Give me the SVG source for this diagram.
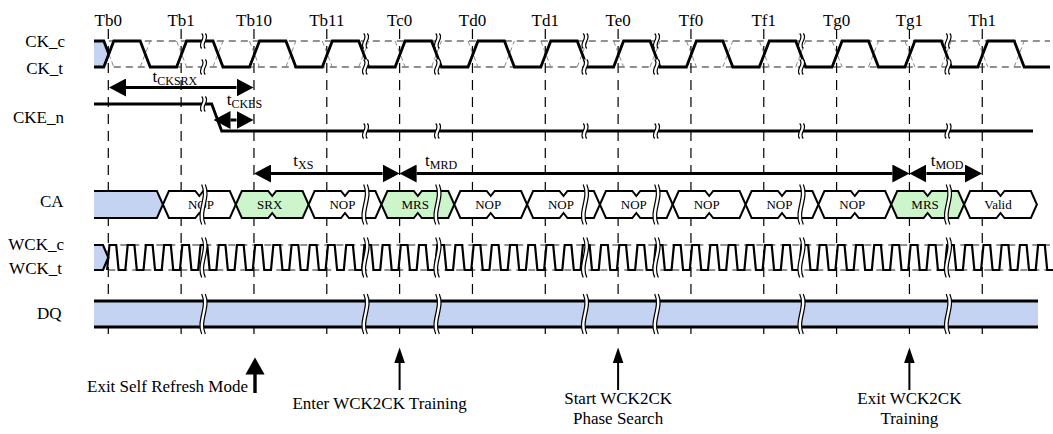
<svg xmlns="http://www.w3.org/2000/svg" width="1053" height="434" viewBox="0 0 1053 434">
<style>
text{font-family:"Liberation Serif","Times New Roman",serif;fill:#000}
.lr{font-size:17px;text-anchor:end}
.tk{font-size:17px;text-anchor:middle}
.cmd{font-size:13px;text-anchor:middle}
.t{font-size:17px}
.sub{font-size:12px}
.ann{font-size:17px}
.mid{text-anchor:middle}
.grid{stroke:#000;stroke-width:1.2;stroke-dasharray:10 7;fill:none}
.tick{stroke:#000;stroke-width:1.2;fill:none}
.sig{fill:none;stroke:#000;stroke-width:2.8;stroke-linejoin:miter}
.wck{fill:none;stroke:#000;stroke-width:2.2}
.cmp{fill:none;stroke:#222;stroke-width:1;stroke-dasharray:7 5}
.cmpd{fill:none;stroke:#8a8a8a;stroke-width:1;stroke-dasharray:5 3}
.hex{stroke:#000;stroke-width:2;stroke-linejoin:miter}
.w{fill:#fff}.g{fill:#ccf5cc}.b{fill:#c5d3f3}
.ol{fill:none;stroke:#000;stroke-width:2}
.arr{stroke:#000;stroke-width:3;fill:none}
.dq{stroke:#000;stroke-width:3;fill:none}
</style>
<defs>
<marker id="ah" markerUnits="userSpaceOnUse" markerWidth="17" markerHeight="18" refX="0" refY="9" orient="auto-start-reverse" viewBox="0 0 17 18"><path d="M0,0L17,9L0,18Z" fill="#000"/></marker>
<g id="bs"><path d="M-1.8,-7.5C3.2,-2.5 -6.8,2.5 -1.8,7.5L1.8,7.5C-3.2,2.5 6.8,-2.5 1.8,-7.5Z" fill="#fff"/><path d="M-1.8,-7.5C3.2,-2.5 -6.8,2.5 -1.8,7.5M1.8,-7.5C6.8,-2.5 -3.2,2.5 1.8,7.5" fill="none" stroke="#000" stroke-width="1.2"/></g>
<g id="bl"><path d="M-1.8,-20C4.2,-7 -7.8,7 -1.8,20L1.8,20C-4.2,7 7.8,-7 1.8,-20Z" fill="#fff"/><path d="M-1.8,-20C4.2,-7 -7.8,7 -1.8,20M1.8,-20C7.8,-7 -4.2,7 1.8,20" fill="none" stroke="#000" stroke-width="1.2"/></g>
</defs>
<rect width="1053" height="434" fill="#fff"/>

<g id="timeline">
<path class="grid" d="M108.3,29V300M181.13,29V300M253.96,29V300M326.79,29V300M399.62,29V300M472.45,29V300M545.28,29V300M618.11,29V300M690.94,29V300M763.77,29V300M836.6,29V300M909.43,29V300M982.26,29V300"/>
<path class="tick" d="M108.3,327V334M181.13,327V334M253.96,327V334M326.79,327V334M399.62,327V334M472.45,327V334M545.28,327V334M618.11,327V334M690.94,327V334M763.77,327V334M836.6,327V334M909.43,327V334M982.26,327V334"/>
<text class="tk" x="108.3" y="26">Tb0</text>
<text class="tk" x="181.13" y="26">Tb1</text>
<text class="tk" x="253.96" y="26">Tb10</text>
<text class="tk" x="326.79" y="26">Tb11</text>
<text class="tk" x="399.62" y="26">Tc0</text>
<text class="tk" x="472.45" y="26">Td0</text>
<text class="tk" x="545.28" y="26">Td1</text>
<text class="tk" x="618.11" y="26">Te0</text>
<text class="tk" x="690.94" y="26">Tf0</text>
<text class="tk" x="763.77" y="26">Tf1</text>
<text class="tk" x="836.6" y="26">Tg0</text>
<text class="tk" x="909.43" y="26">Tg1</text>
<text class="tk" x="982.26" y="26">Th1</text>
</g>

<g id="ck">
<text class="lr" x="65" y="46.5">CK_c</text>
<text class="lr" x="63" y="74.3">CK_t</text>
<polygon class="b" points="94,41 103.8,41 108.8,54 103.8,67 94,67"/>
<path class="cmp" d="M108.8,41H1050M113.8,67H1050"/>
<path class="cmpd" d="M108.8,54L113.8,67M140.2,67L150.2,41M176.6,41L186.6,67M213,67L223,41M249.5,41L259.5,67M285.9,67L295.9,41M322.3,41L332.3,67M358.7,67L368.7,41M395.1,41L405.1,67M431.5,67L441.5,41M468,41L478,67M504.4,67L514.4,41M540.8,41L550.8,67M577.2,67L587.2,41M613.6,41L623.6,67M650,67L660,41M686.4,41L696.4,67M722.8,67L732.8,41M759.3,41L769.3,67M795.7,67L805.7,41M832.1,41L842.1,67M868.5,67L878.5,41M904.9,41L914.9,67M941.3,67L951.3,41M977.8,41L987.8,67M1014.2,67L1024.2,41"/>
<path class="sig" d="M94,41H103.8L108.8,54"/>
<path class="sig" d="M94,67H103.8L113.8,41H140.2L150.2,67H176.6L186.6,41H213L223,67H249.5L259.5,41H285.9L295.9,67H322.3L332.3,41H358.7L368.7,67H395.1L405.1,41H431.5L441.5,67H468L478,41H504.4L514.4,67H540.8L550.8,41H577.2L587.2,67H613.6L623.6,41H650L660,67H686.4L696.4,41H722.8L732.8,67H759.3L769.3,41H795.7L805.7,67H832.1L842.1,41H868.5L878.5,67H904.9L914.9,41H941.3L951.3,67H977.8L987.8,41H1014.2L1024.2,67H1050"/>
</g>

<g id="cke">
<text class="lr" x="64" y="123">CKE_n</text>
<path class="sig" d="M94,104H211.7L221.7,131H1033"/>
</g>

<g id="ca">
<text class="lr" x="63.5" y="206.7">CA</text>
<polygon class="b" points="94,191 156.9,191 162.9,204.5 156.9,218 94,218"/>
<path class="ol" d="M94,191H156.9L162.9,204.5L156.9,218H94"/>
<polygon class="hex w" points="162.9,204.5 168.9,191 195.3,191 199.3,196 203.3,191 229.8,191 235.8,204.5 229.8,218 203.3,218 199.3,213 195.3,218 168.9,218"/>
<polygon class="hex g" points="235.8,204.5 241.8,191 268.2,191 272.2,196 276.2,191 302.6,191 308.6,204.5 302.6,218 276.2,218 272.2,213 268.2,218 241.8,218"/>
<polygon class="hex w" points="308.6,204.5 314.6,191 341,191 345,196 349,191 375.4,191 381.4,204.5 375.4,218 349,218 345,213 341,218 314.6,218"/>
<polygon class="hex g" points="381.4,204.5 387.4,191 413.8,191 417.8,196 421.8,191 448.3,191 454.3,204.5 448.3,218 421.8,218 417.8,213 413.8,218 387.4,218"/>
<polygon class="hex w" points="454.3,204.5 460.3,191 486.7,191 490.7,196 494.7,191 521.1,191 527.1,204.5 521.1,218 494.7,218 490.7,213 486.7,218 460.3,218"/>
<polygon class="hex w" points="527.1,204.5 533.1,191 559.5,191 563.5,196 567.5,191 593.9,191 599.9,204.5 593.9,218 567.5,218 563.5,213 559.5,218 533.1,218"/>
<polygon class="hex w" points="599.9,204.5 605.9,191 632.3,191 636.3,196 640.3,191 666.7,191 672.7,204.5 666.7,218 640.3,218 636.3,213 632.3,218 605.9,218"/>
<polygon class="hex w" points="672.7,204.5 678.7,191 705.2,191 709.2,196 713.2,191 739.6,191 745.6,204.5 739.6,218 713.2,218 709.2,213 705.2,218 678.7,218"/>
<polygon class="hex w" points="745.6,204.5 751.6,191 778,191 782,196 786,191 812.4,191 818.4,204.5 812.4,218 786,218 782,213 778,218 751.6,218"/>
<polygon class="hex w" points="818.4,204.5 824.4,191 850.8,191 854.8,196 858.8,191 885.2,191 891.2,204.5 885.2,218 858.8,218 854.8,213 850.8,218 824.4,218"/>
<polygon class="hex g" points="891.2,204.5 897.2,191 923.6,191 927.6,196 931.6,191 958.1,191 964.1,204.5 958.1,218 931.6,218 927.6,213 923.6,218 897.2,218"/>
<polygon class="hex w" points="964.1,204.5 970.1,191 996.5,191 1000.5,196 1004.5,191 1030.9,191 1036.9,204.5 1030.9,218 1004.5,218 1000.5,213 996.5,218 970.1,218"/>
<text class="cmd" x="201" y="209">NOP</text>
<text class="cmd" x="269.7" y="209">SRX</text>
<text class="cmd" x="342.5" y="209">NOP</text>
<text class="cmd" x="415.3" y="209">MRS</text>
<text class="cmd" x="488.2" y="209">NOP</text>
<text class="cmd" x="561" y="209">NOP</text>
<text class="cmd" x="633.8" y="209">NOP</text>
<text class="cmd" x="706.7" y="209">NOP</text>
<text class="cmd" x="779.5" y="209">NOP</text>
<text class="cmd" x="852.3" y="209">NOP</text>
<text class="cmd" x="925.1" y="209">MRS</text>
<text class="cmd" x="998" y="209">Valid</text>
</g>

<g id="wck">
<text class="lr" x="64" y="249.5">WCK_c</text>
<text class="lr" x="62" y="273.5">WCK_t</text>
<polygon class="b" points="94,245 103,245 108.3,257.5 103,270 94,270"/>
<path class="cmp" d="M108.3,245H1050M108.3,270H1050"/>
<path class="wck" d="M94,245H103L108.3,257.5L103,270H94"/>
<path class="wck" d="M107.1,270
l2.4,-25h6.704l2.4,25h6.704 l2.4,-25h6.704l2.4,25h6.704 l2.4,-25h6.704l2.4,25h6.704 l2.4,-25h6.704l2.4,25h6.704
l2.4,-25h6.704l2.4,25h6.704 l2.4,-25h6.704l2.4,25h6.704 l2.4,-25h6.704l2.4,25h6.704 l2.4,-25h6.704l2.4,25h6.704
l2.4,-25h6.704l2.4,25h6.704 l2.4,-25h6.704l2.4,25h6.704 l2.4,-25h6.704l2.4,25h6.704 l2.4,-25h6.704l2.4,25h6.704
l2.4,-25h6.704l2.4,25h6.704 l2.4,-25h6.704l2.4,25h6.704 l2.4,-25h6.704l2.4,25h6.704 l2.4,-25h6.704l2.4,25h6.704
l2.4,-25h6.704l2.4,25h6.704 l2.4,-25h6.704l2.4,25h6.704 l2.4,-25h6.704l2.4,25h6.704 l2.4,-25h6.704l2.4,25h6.704
l2.4,-25h6.704l2.4,25h6.704 l2.4,-25h6.704l2.4,25h6.704 l2.4,-25h6.704l2.4,25h6.704 l2.4,-25h6.704l2.4,25h6.704
l2.4,-25h6.704l2.4,25h6.704 l2.4,-25h6.704l2.4,25h6.704 l2.4,-25h6.704l2.4,25h6.704 l2.4,-25h6.704l2.4,25h6.704
l2.4,-25h6.704l2.4,25h6.704 l2.4,-25h6.704l2.4,25h6.704 l2.4,-25h6.704l2.4,25h6.704 l2.4,-25h6.704l2.4,25h6.704
l2.4,-25h6.704l2.4,25h6.704 l2.4,-25h6.704l2.4,25h6.704 l2.4,-25h6.704l2.4,25h6.704 l2.4,-25h6.704l2.4,25h6.704
l2.4,-25h6.704l2.4,25h6.704 l2.4,-25h6.704l2.4,25h6.704 l2.4,-25h6.704l2.4,25h6.704 l2.4,-25h6.704l2.4,25h6.704
l2.4,-25h6.704l2.4,25h6.704 l2.4,-25h6.704l2.4,25h6.704 l2.4,-25h6.704l2.4,25h6.704 l2.4,-25h6.704l2.4,25h6.704
l2.4,-25h6.704l2.4,25h6.704 l2.4,-25h6.704l2.4,25h6.704 l2.4,-25h6.704l2.4,25h6.704 l2.4,-25h6.704l2.4,25h6.704
l2.4,-25h6.704l2.4,25h6.704 l2.4,-25h6.704l2.4,25h6.704 l2.4,-25h6.704l2.4,25h6.704 l2.4,-25h6.704l2.4,25h6.704"/>
</g>

<g id="dq">
<text class="t" x="37" y="318.5">DQ</text>
<rect class="b" x="94" y="301" width="944" height="26"/>
<path class="dq" d="M94,301H1038M94,327H1038"/>
</g>

<g id="breaks">
<use href="#bs" x="203.5" y="41"/><use href="#bs" x="203.5" y="67"/><use href="#bs" x="203.5" y="104"/><use href="#bl" x="203.5" y="204.5"/><use href="#bl" x="203.5" y="257.5"/><use href="#bl" x="203.5" y="314"/>
<use href="#bs" x="365.5" y="41"/><use href="#bs" x="365.5" y="67"/><use href="#bs" x="365.5" y="131"/><use href="#bl" x="365.5" y="204.5"/><use href="#bl" x="365.5" y="257.5"/><use href="#bl" x="365.5" y="314"/>
<use href="#bs" x="437.5" y="41"/><use href="#bs" x="437.5" y="67"/><use href="#bs" x="437.5" y="131"/><use href="#bl" x="437.5" y="204.5"/><use href="#bl" x="437.5" y="257.5"/><use href="#bl" x="437.5" y="314"/>
<use href="#bs" x="585" y="41"/><use href="#bs" x="585" y="67"/><use href="#bs" x="585" y="131"/><use href="#bl" x="585" y="204.5"/><use href="#bl" x="585" y="257.5"/><use href="#bl" x="585" y="314"/>
<use href="#bs" x="656.5" y="41"/><use href="#bs" x="656.5" y="67"/><use href="#bs" x="656.5" y="131"/><use href="#bl" x="656.5" y="204.5"/><use href="#bl" x="656.5" y="257.5"/><use href="#bl" x="656.5" y="314"/>
<use href="#bs" x="801.5" y="41"/><use href="#bs" x="801.5" y="67"/><use href="#bs" x="801.5" y="131"/><use href="#bl" x="801.5" y="204.5"/><use href="#bl" x="801.5" y="257.5"/><use href="#bl" x="801.5" y="314"/>
<use href="#bs" x="948" y="41"/><use href="#bs" x="948" y="67"/><use href="#bs" x="948" y="131"/><use href="#bl" x="948" y="204.5"/><use href="#bl" x="948" y="257.5"/><use href="#bl" x="948" y="314"/>
</g>

<g id="connectors">
<path class="arr" d="M126,87.5H236.5" marker-start="url(#ah)" marker-end="url(#ah)"/>
<path class="arr" d="M230.5,120H236.5" marker-start="url(#ah)" marker-end="url(#ah)"/>
<path class="arr" d="M271,173.5H382.6" marker-start="url(#ah)" marker-end="url(#ah)"/>
<path class="arr" d="M416.6,173.5H892.4" marker-start="url(#ah)" marker-end="url(#ah)"/>
<path class="arr" d="M926.4,173.5H965" marker-start="url(#ah)" marker-end="url(#ah)"/>
<text class="t" x="152.5" y="82">t<tspan class="sub" dy="3">CKSRX</tspan></text>
<text class="t" x="226.7" y="104.5">t<tspan class="sub" dy="3">CKES</tspan></text>
<text class="t" x="293.3" y="166">t<tspan class="sub" dy="3">XS</tspan></text>
<text class="t" x="425" y="166">t<tspan class="sub" dy="3">MRD</tspan></text>
<text class="t" x="930.7" y="166">t<tspan class="sub" dy="3">MOD</tspan></text>
<polygon points="255,357.5 264.6,374.4 245.4,374.4" fill="#000"/>
<rect x="253.3" y="374" width="3.4" height="19" fill="#000"/>
<path d="M399.6,362V390M618.1,362V390M909.4,362V390" stroke="#000" stroke-width="2"/>
<polygon points="399.6,347.5 404.9,363 394.3,363" fill="#000"/>
<polygon points="618.1,347.5 623.4,363 612.8,363" fill="#000"/>
<polygon points="909.4,347.5 914.7,363 904.1,363" fill="#000"/>
</g>

<g id="notes">
<text class="ann" x="248" y="392" text-anchor="end">Exit Self Refresh Mode</text>
<text class="ann" x="292.4" y="409">Enter WCK2CK Training</text>
<text class="ann mid" x="618.1" y="404">Start WCK2CK</text>
<text class="ann mid" x="618.1" y="424">Phase Search</text>
<text class="ann mid" x="909.4" y="404">Exit WCK2CK</text>
<text class="ann mid" x="909.4" y="424">Training</text>
</g>
</svg>
